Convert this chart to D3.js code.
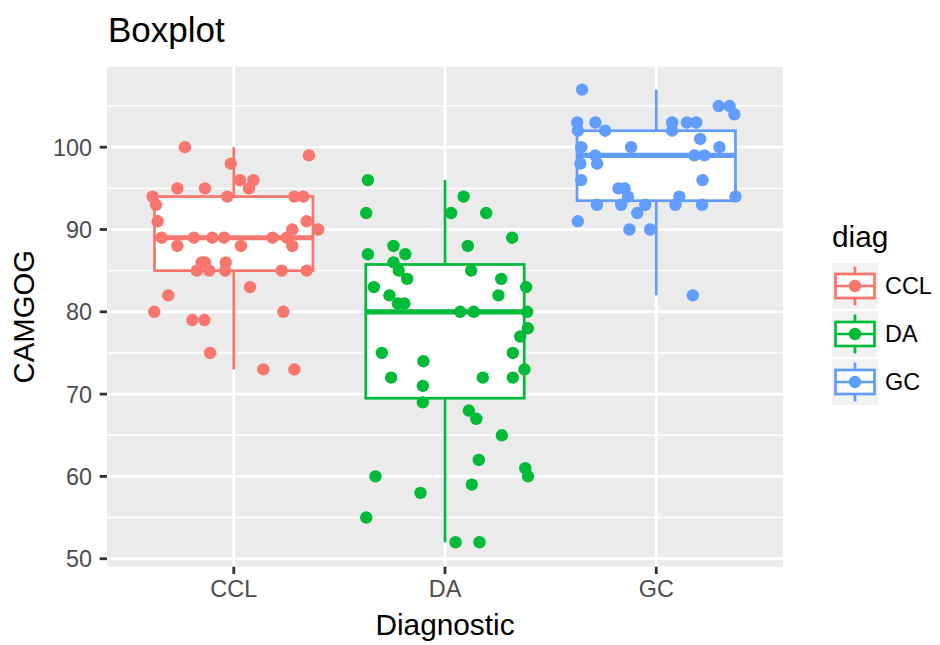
<!DOCTYPE html>
<html lang="en">
<head>
  <meta charset="UTF-8">
  <title>Boxplot</title>
  <script src="https://d3js.org/d3.v7.min.js"></script>
  <style>
    body { margin: 0; background: #fff; }
    svg { display: block; font-family: "Liberation Sans", Arial, sans-serif; }
  </style>
</head>
<body>
  <svg id="chart" width="940" height="645"></svg>
  <script>
    // ---- data ----
    const categories = ["CCL", "DA", "GC"];
    const colors = ["#F8766D", "#00BA38", "#619CFF"];
    const yTicks = [50, 60, 70, 80, 90, 100];
    const yMinor = [55, 65, 75, 85, 95, 105];

    // box statistics per category
    const whiskerLow = [73, 52, 82];
    const q1 = [85, 69.5, 93.5];
    const medians = [89, 80, 99];
    const q3 = [94, 85.75, 102];
    const whiskerHigh = [100, 96, 107];

    // jittered points: [horizontal offset in category units, CAMGOG]
    const cclPoints = [
      [-0.231, 100], [0.356, 99], [-0.014, 98], [0.030, 96], [0.093, 96],
      [0.072, 95], [-0.267, 95], [-0.136, 95], [-0.384, 94], [-0.031, 94],
      [0.287, 94], [0.329, 94], [-0.368, 93], [-0.360, 91], [0.345, 91],
      [0.400, 90], [0.277, 90], [-0.341, 89], [-0.188, 89], [-0.102, 89],
      [-0.046, 89], [0.184, 89], [0.251, 89], [-0.267, 88], [0.034, 88],
      [0.277, 88], [-0.136, 86], [-0.152, 86], [-0.038, 86], [-0.175, 85],
      [-0.116, 85], [-0.041, 85], [0.227, 85], [0.345, 85], [0.077, 83],
      [-0.310, 82], [-0.376, 80], [0.235, 80], [-0.196, 79], [-0.139, 79],
      [-0.112, 75], [0.140, 73], [0.287, 73]
    ];
    const daPoints = [
      [-0.365, 96], [0.088, 94], [-0.373, 92], [0.029, 92], [0.195, 92],
      [0.318, 89], [-0.244, 88], [0.108, 88], [-0.365, 87], [-0.188, 87],
      [-0.244, 86], [-0.219, 85], [0.124, 85], [-0.179, 84], [0.266, 84],
      [-0.337, 83], [0.384, 83], [-0.263, 82], [0.253, 82], [-0.223, 81],
      [-0.192, 81], [0.072, 80], [0.136, 80], [0.389, 80], [0.392, 78],
      [0.356, 77], [-0.299, 75], [0.321, 75], [-0.102, 74], [0.376, 73],
      [-0.255, 72], [0.179, 72], [0.321, 72], [-0.105, 71], [-0.105, 69],
      [0.113, 68], [0.148, 67], [0.269, 65], [0.160, 62], [0.380, 61],
      [-0.329, 60], [0.393, 60], [0.127, 59], [-0.116, 58], [-0.373, 55],
      [0.050, 52], [0.163, 52]
    ];
    const gcPoints = [
      [-0.351, 107], [0.296, 105], [0.347, 105], [0.370, 104], [-0.374, 103],
      [-0.288, 103], [0.075, 103], [0.145, 103], [0.189, 103], [-0.371, 102],
      [-0.242, 102], [0.075, 102], [0.208, 101], [-0.355, 100], [-0.119, 100],
      [0.299, 100], [-0.289, 99], [0.181, 99], [0.228, 99], [-0.359, 98],
      [-0.280, 98], [-0.355, 96], [0.219, 96], [-0.179, 95], [-0.150, 95],
      [-0.134, 94], [0.109, 94], [0.375, 94], [-0.281, 93], [-0.166, 93],
      [-0.052, 93], [0.091, 93], [0.217, 93], [-0.090, 92], [-0.371, 91],
      [-0.127, 90], [-0.029, 90], [0.173, 82]
    ];
    const pointSets = [cclPoints, daPoints, gcPoints];

    // ---- layout ----
    const svg = d3.select("#chart");
    const panel = {left: 107, right: 783, top: 66.7, bottom: 566.7};

    const x = d3.scalePoint()
                .domain(categories)
                .range([panel.left, panel.right])
                .padding(0.6);
    const y = d3.scaleLinear()
                .domain([49.03, 109.78])
                .range([panel.bottom, panel.top]);

    const boxes = categories.map((c, i) => ({
      cat: c, color: colors[i],
      lo: whiskerLow[i], q1: q1[i], med: medians[i], q3: q3[i], hi: whiskerHigh[i]
    }));

    // panel background + grid
    svg.append("rect")
       .attr("x", panel.left).attr("y", panel.top)
       .attr("width", panel.right - panel.left)
       .attr("height", panel.bottom - panel.top)
       .attr("fill", "#EBEBEB");

    svg.append("g").selectAll("line")
       .data(yMinor).enter().append("line")
       .attr("x1", panel.left).attr("x2", panel.right)
       .attr("y1", d => y(d)).attr("y2", d => y(d))
       .attr("stroke", "#fff").attr("stroke-width", 1.4);

    svg.append("g").selectAll("line")
       .data(yTicks).enter().append("line")
       .attr("x1", panel.left).attr("x2", panel.right)
       .attr("y1", d => y(d)).attr("y2", d => y(d))
       .attr("stroke", "#fff").attr("stroke-width", 2.8);

    svg.append("g").selectAll("line")
       .data(categories).enter().append("line")
       .attr("x1", d => x(d)).attr("x2", d => x(d))
       .attr("y1", panel.top).attr("y2", panel.bottom)
       .attr("stroke", "#fff").attr("stroke-width", 2.8);

    // boxplots
    const boxW = x.step() * 0.75;
    const bg = svg.append("g").selectAll("g")
       .data(boxes).enter().append("g");

    bg.append("line")
      .attr("x1", d => x(d.cat)).attr("x2", d => x(d.cat))
      .attr("y1", d => y(d.hi)).attr("y2", d => y(d.q3))
      .attr("stroke", d => d.color).attr("stroke-width", 2.7);
    bg.append("line")
      .attr("x1", d => x(d.cat)).attr("x2", d => x(d.cat))
      .attr("y1", d => y(d.q1)).attr("y2", d => y(d.lo))
      .attr("stroke", d => d.color).attr("stroke-width", 2.7);
    bg.append("rect")
      .attr("x", d => x(d.cat) - boxW / 2)
      .attr("y", d => y(d.q3))
      .attr("width", boxW)
      .attr("height", d => y(d.q1) - y(d.q3))
      .attr("fill", "#fff")
      .attr("stroke", d => d.color).attr("stroke-width", 2.7);
    bg.append("line")
      .attr("x1", d => x(d.cat) - boxW / 2).attr("x2", d => x(d.cat) + boxW / 2)
      .attr("y1", d => y(d.med)).attr("y2", d => y(d.med))
      .attr("stroke", d => d.color).attr("stroke-width", 5.2);

    // jittered points
    pointSets.forEach((pts, i) => {
      svg.append("g").selectAll("circle")
         .data(pts).enter().append("circle")
         .attr("cx", d => x(categories[i]) + d[0] * x.step())
         .attr("cy", d => y(d[1]))
         .attr("r", 6.2)
         .attr("fill", colors[i]);
    });

    // axes
    const axisText = "#4D4D4D";
    const yAxis = svg.append("g");
    yTicks.forEach(t => {
      yAxis.append("line")
           .attr("x1", panel.left - 7.3).attr("x2", panel.left)
           .attr("y1", y(t)).attr("y2", y(t))
           .attr("stroke", "#333").attr("stroke-width", 2.8);
      yAxis.append("text")
           .attr("x", panel.left - 15).attr("y", y(t))
           .attr("dy", "0.36em")
           .attr("text-anchor", "end")
           .attr("font-size", 23.4)
           .attr("fill", axisText)
           .text(t);
    });

    const xAxis = svg.append("g");
    categories.forEach(c => {
      xAxis.append("line")
           .attr("x1", x(c)).attr("x2", x(c))
           .attr("y1", panel.bottom).attr("y2", panel.bottom + 7.3)
           .attr("stroke", "#333").attr("stroke-width", 2.8);
      xAxis.append("text")
           .attr("x", x(c)).attr("y", 597)
           .attr("text-anchor", "middle")
           .attr("font-size", 23.4)
           .attr("fill", axisText)
           .text(c);
    });

    // titles
    svg.append("text")
       .attr("x", (panel.left + panel.right) / 2).attr("y", 635)
       .attr("text-anchor", "middle")
       .attr("font-size", 29.8)
       .text("Diagnostic");
    svg.append("text")
       .attr("transform", `translate(34,${(panel.top + panel.bottom) / 2}) rotate(-90)`)
       .attr("text-anchor", "middle")
       .attr("font-size", 29.3)
       .text("CAMGOG");
    svg.append("text")
       .attr("x", 108).attr("y", 42)
       .attr("font-size", 35)
       .text("Boxplot");

    // legend
    const legend = svg.append("g");
    legend.append("text")
          .attr("x", 832).attr("y", 247)
          .attr("font-size", 29.8)
          .text("diag");
    const keySize = 46;
    boxes.forEach((b, i) => {
      const ky = 263 + i * 48;
      const cx = 832 + keySize / 2, cy = ky + keySize / 2;
      const k = legend.append("g");
      k.append("rect")
       .attr("x", 832).attr("y", ky)
       .attr("width", keySize).attr("height", keySize)
       .attr("fill", "#F2F2F2");
      k.append("line")
       .attr("x1", cx).attr("x2", cx)
       .attr("y1", ky + 3.5).attr("y2", ky + keySize - 3.5)
       .attr("stroke", b.color).attr("stroke-width", 2.7);
      k.append("rect")
       .attr("x", 835.5).attr("y", ky + 11)
       .attr("width", keySize - 7).attr("height", keySize - 22)
       .attr("fill", "#fff")
       .attr("stroke", b.color).attr("stroke-width", 2.7);
      k.append("line")
       .attr("x1", 835.5).attr("x2", 835.5 + keySize - 7)
       .attr("y1", cy).attr("y2", cy)
       .attr("stroke", b.color).attr("stroke-width", 2.7);
      k.append("circle")
       .attr("cx", cx).attr("cy", cy).attr("r", 6.2)
       .attr("fill", b.color);
      legend.append("text")
            .attr("x", 885).attr("y", cy)
            .attr("dy", "0.36em")
            .attr("font-size", 23.4)
            .text(b.cat);
    });
  </script>
</body>
</html>
